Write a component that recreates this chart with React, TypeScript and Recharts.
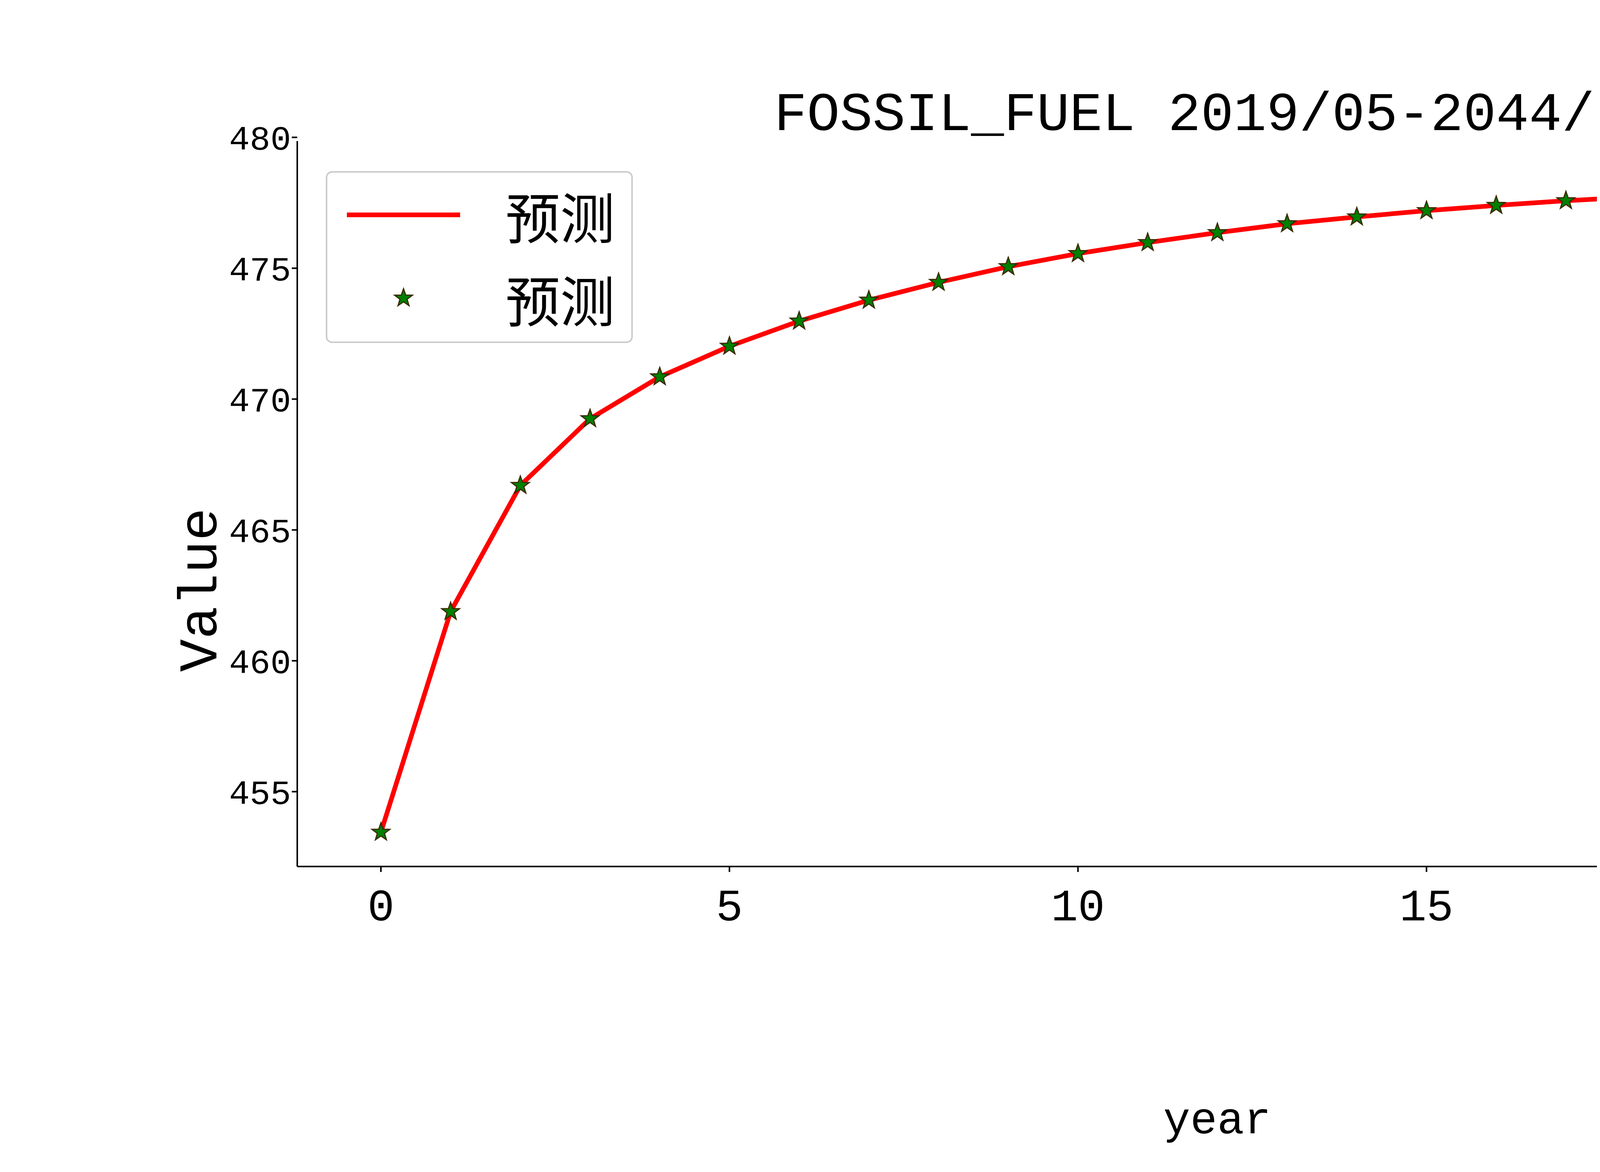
import { ComposedChart, Line, Scatter, XAxis, YAxis, Legend } from "recharts";

const years = [0, 1, 2, 3, 4, 5, 6, 7, 8, 9, 10, 11, 12, 13, 14, 15, 16, 17, 18, 19, 20, 21, 22, 23, 24];
const forecast = [
  453.45, 461.88, 466.7, 469.25, 470.85, 472.02, 472.98, 473.78, 474.46, 475.06, 475.56, 475.98,
  476.36, 476.7, 476.96, 477.2, 477.4, 477.58, 477.72, 477.86, 477.96, 478.06, 478.14, 478.22, 478.56,
];
const xTicks = [0, 5, 10, 15, 20, 25];
const yTicks = [455, 460, 465, 470, 475, 480];
const seriesName = "预测";

const data = years.map((y, i) => ({ year: y, value: forecast[i] }));

const LATIN = "'Liberation Mono', 'Noto Sans CJK SC', monospace";
const CJK = "'Noto Sans CJK SC', sans-serif";

const starPoints = (cx: number, cy: number, r: number) => {
  const pts: string[] = [];
  for (let i = 0; i < 10; i++) {
    const rad = i % 2 === 0 ? r : r * 0.4;
    const a = -Math.PI / 2 + (i * Math.PI) / 5;
    pts.push(`${cx + rad * Math.cos(a)},${cy + rad * Math.sin(a)}`);
  }
  return pts.join(" ");
};

const Star = (props: any) => {
  const { cx, cy } = props;
  return <polygon points={starPoints(cx, cy, 24)} fill="#008000" stroke="#3a2a00" strokeWidth={3} />;
};

const LegendBox = () => (
  <svg width={786} height={440} style={{ display: "block" }}>
    <rect x={2} y={2} width={782} height={436} rx={14} fill="#fff" stroke="#ccc" strokeWidth={4} />
    <line x1={54} y1={112} x2={344} y2={112} stroke="#ff0000" strokeWidth={12} />
    <text x={460} y={112} dominantBaseline="central" fontSize={140} fontFamily={CJK}>{seriesName}</text>
    <polygon points={starPoints(199, 325, 24)} fill="#008000" stroke="#3a2a00" strokeWidth={3} />
    <text x={460} y={325} dominantBaseline="central" fontSize={140} fontFamily={CJK}>{seriesName}</text>
  </svg>
);

export default function App() {
  return (
    <div style={{ margin: -8, width: 6000, height: 3000, background: "#fff", overflow: "hidden" }}>
      <ComposedChart
        width={6000}
        height={3000}
        data={data}
        margin={{ top: 361, right: 528, left: 461, bottom: 92 }}
      >
        <XAxis
          dataKey="year"
          type="number"
          domain={[-1.2, 25.2]}
          ticks={xTicks}
          height={250}
          stroke="#000"
          strokeWidth={4}
          tickSize={14}
          tick={{ fontSize: 115, fontFamily: LATIN, fill: "#000", dy: 40 }}
        />
        <XAxis xAxisId="top" orientation="top" dataKey="year" type="number" domain={[-1.2, 25.2]} height={0} tick={false} tickLine={false} stroke="#000" strokeWidth={4} />
        <YAxis
          type="number"
          domain={[452.14, 479.86]}
          ticks={yTicks}
          width={300}
          stroke="#000"
          strokeWidth={4}
          tickSize={14}
          allowDataOverflow
          tick={{ fontSize: 88, fontFamily: LATIN, fill: "#000" }}
        />
        <YAxis yAxisId="right" orientation="right" type="number" domain={[452.14, 479.86]} width={0} tick={false} tickLine={false} stroke="#000" strokeWidth={4} />
        <Legend
          content={<LegendBox />}
          wrapperStyle={{ position: "absolute", left: 834, top: 438, width: 786, height: 440 }}
        />
        <Line dataKey="value" name={seriesName} stroke="#ff0000" strokeWidth={12} dot={false} isAnimationActive={false} />
        <Scatter dataKey="value" name={seriesName} shape={<Star />} isAnimationActive={false} />
        <text x={3116} y={295} textAnchor="middle" dominantBaseline="central" fontSize={140} fontFamily={LATIN}>
          FOSSIL_FUEL 2019/05-2044/05
        </text>
        <text x={3116} y={2870} textAnchor="middle" dominantBaseline="central" fontSize={115} fontFamily={LATIN}>
          year
        </text>
        <text x={516} y={1510} textAnchor="middle" dominantBaseline="central" fontSize={140} fontFamily={LATIN} transform="rotate(-90 516 1510)">
          Value
        </text>
      </ComposedChart>
    </div>
  );
}
